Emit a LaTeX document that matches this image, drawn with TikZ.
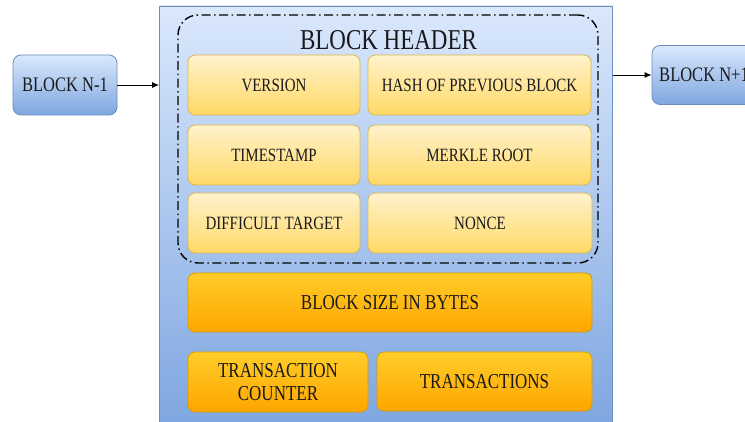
\documentclass[tikz,border=0pt]{standalone}
\usepackage{fontspec}
\setmainfont{LiberationSerif}[Extension=.ttf, UprightFont=*-Regular, BoldFont=*-Bold]
\usetikzlibrary{arrows.meta}
\definecolor{blueA}{HTML}{DAE8FC}
\definecolor{blueB}{HTML}{7EA6E0}
\definecolor{blueS}{HTML}{6C8EBF}
\definecolor{yelA}{HTML}{FFF2CC}
\definecolor{yelB}{HTML}{FFD966}
\definecolor{yelS}{HTML}{D6B656}
\definecolor{orA}{HTML}{FFCD28}
\definecolor{orB}{HTML}{FFA500}
\definecolor{orS}{HTML}{D79B00}
\definecolor{txt}{HTML}{1A1A1A}
\newcommand{\tallt}[1]{\scalebox{1}[1.25]{#1}}
\tikzset{
  base/.style={rectangle, inner sep=0pt, anchor=center, text=txt, align=center},
  bluebox/.style={base, rounded corners=8pt, draw=blueS, line width=0.8pt, top color=blueA, bottom color=blueB},
  yelbox/.style={base, rounded corners=7pt, draw=yelS, line width=0.8pt, top color=yelA, bottom color=yelB, font=\fontsize{15}{16}\selectfont},
  orbox/.style={base, rounded corners=7pt, draw=orS, line width=0.8pt, top color=orA, bottom color=orB, font=\fontsize{17}{19}\selectfont},
  outerbox/.style={base, draw=blueS, line width=0.8pt, top color=blueA, bottom color=blueB},
  hdrbox/.style={base, rounded corners=20pt, draw=black, line width=1.4pt, dash pattern=on 9pt off 3.5pt on 1.5pt off 3.5pt},
  conn/.style={draw=black, line width=0.9pt, -{Latex[length=7pt,width=6pt]}}
}
\begin{document}
\begin{tikzpicture}[x=1pt,y=-1pt]
\useasboundingbox (0,0) rectangle (745,422);
\clip (0,0) rectangle (745,422);
\fill[white] (0,0) rectangle (745,422);
% outer block
\node[outerbox, minimum width=453pt, minimum height=420pt] (outer) at (386,216) {};
% header container
\node[hdrbox, minimum width=420pt, minimum height=248pt] (header) at (388,139) {};
\node[base, font=\fontsize{23}{25}\selectfont] (title) at (388.5,40) {\tallt{BLOCK HEADER}};
% header fields
\node[yelbox, minimum width=172pt, minimum height=60pt] (version) at (274,85) {\tallt{VERSION}};
\node[yelbox, minimum width=223pt, minimum height=60pt] (hash) at (479.5,85) {\tallt{HASH OF PREVIOUS BLOCK}};
\node[yelbox, minimum width=172pt, minimum height=60pt] (time) at (274,155) {\tallt{TIMESTAMP}};
\node[yelbox, minimum width=223pt, minimum height=60pt] (merkle) at (479.5,155) {\tallt{MERKLE ROOT}};
\node[yelbox, minimum width=172pt, minimum height=60pt] (diff) at (274,223) {\tallt{DIFFICULT TARGET}};
\node[yelbox, minimum width=224pt, minimum height=60pt] (nonce) at (480,223) {\tallt{NONCE}};
% body fields
\node[orbox, minimum width=404pt, minimum height=59pt] (size) at (390,302.5) {\tallt{BLOCK SIZE IN BYTES}};
\node[orbox, minimum width=180pt, minimum height=60pt] (counter) at (278,382) {\tallt{TRANSACTION}\\[4pt]\tallt{COUNTER}};
\node[orbox, minimum width=215pt, minimum height=59pt] (trans) at (484.5,381.5) {\tallt{TRANSACTIONS}};
% neighbouring blocks
\node[bluebox, minimum width=104pt, minimum height=60pt, font=\fontsize{16.5}{18}\selectfont] (prev) at (65,85) {\tallt{BLOCK N-1}};
\node[bluebox, minimum width=104pt, minimum height=59pt, font=\fontsize{16.5}{18}\selectfont] (next) at (704,75) {\tallt{BLOCK N+1}};
% connectors
\draw[conn] (prev.east) -- (prev.east -| outer.west);
\draw[conn] (next.west -| outer.east) -- (next.west);
\end{tikzpicture}
\end{document}
